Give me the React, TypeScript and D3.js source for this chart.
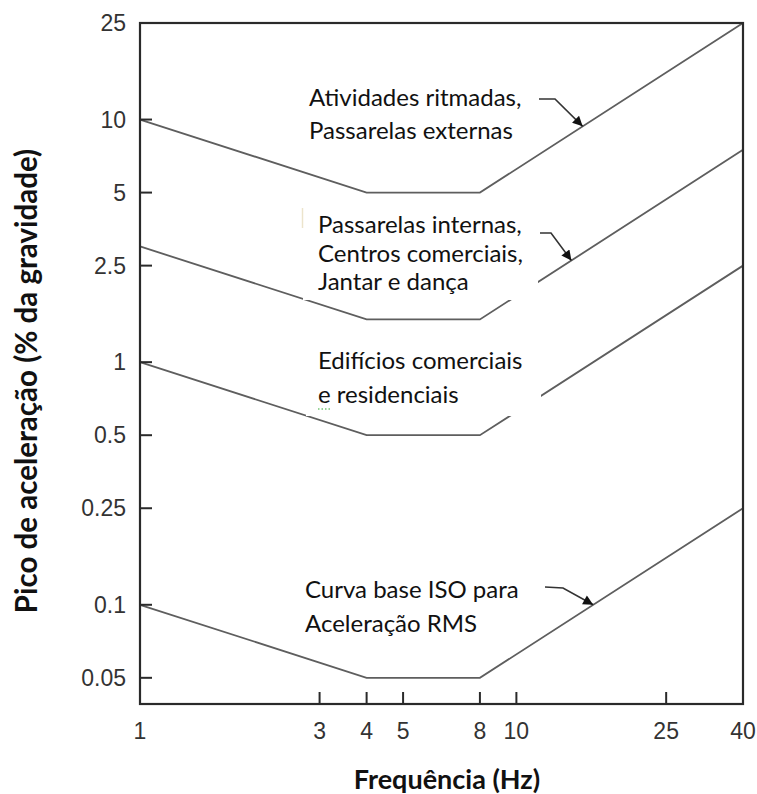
import React from "react";
import * as d3 from "d3";

// frequency (Hz) where the limit curves change slope
const cornerFreqs = [1, 4, 8, 40];
// peak acceleration limits (% g) at each corner frequency
const ritmadas = [10, 5, 5, 25];
const passarelasInternas = [3, 1.5, 1.5, 7.5];
const edificios = [1, 0.5, 0.5, 2.5];
const isoBase = [0.1, 0.05, 0.05, 0.25];

const freqTicks = [1, 3, 4, 5, 8, 10, 25, 40];
const accelTicks = [0.05, 0.1, 0.25, 0.5, 1, 2.5, 5, 10, 25];

const curves = [ritmadas, passarelasInternas, edificios, isoBase];

const W = 757;
const H = 794;
const left = 140;
const right = 743;
const top = 23;
const bottom = 704;

const x = d3.scaleLog().domain([1, 40]).range([left, right]);
const y = d3.scaleLog().domain([0.039, 25]).range([bottom, top]);

const line = d3
  .line<[number, number]>()
  .x((d) => x(d[0]))
  .y((d) => y(d[1]));

// value of a curve at frequency f (piecewise linear in log-log)
const valueAt = (vals: number[], f: number) => {
  for (let i = 0; i < cornerFreqs.length - 1; i++) {
    const f0 = cornerFreqs[i];
    const f1 = cornerFreqs[i + 1];
    if (f >= f0 && f <= f1) {
      const t = Math.log(f / f0) / Math.log(f1 / f0);
      return Math.exp(Math.log(vals[i]) + t * Math.log(vals[i + 1] / vals[i]));
    }
  }
  return vals[vals.length - 1];
};

// annotations: text lines, where they sit, and which curve the arrow points at
const notes = [
  {
    lines: ["Atividades ritmadas,", "Passarelas externas"],
    tx: 309,
    ty: [106, 139],
    curve: ritmadas,
    tipF: 15,
    lead: [[539, 99], [555, 99]],
  },
  {
    lines: ["Passarelas internas,", "Centros comerciais,", "Jantar e dança"],
    tx: 318,
    ty: [233, 262, 290],
    curve: passarelasInternas,
    tipF: 14,
    lead: [[540, 233], [551, 233]],
    mask: [303, 200, 235, 100],
  },
  {
    lines: ["Edifícios comerciais", "e residenciais"],
    tx: 318,
    ty: [369, 403],
    curve: edificios,
    mask: [306, 340, 235, 76],
  },
  {
    lines: ["Curva base ISO para", "Aceleração RMS"],
    tx: 305,
    ty: [598, 632],
    curve: isoBase,
    tipF: 16,
    lead: [[545, 587], [563, 588]],
  },
];

const textFont = "Lato, 'Open Sans', sans-serif";
const tickFont = "'Liberation Sans', Arial, sans-serif";

export default function App() {
  return (
    <svg
      width={W}
      height={H}
      style={{ position: "absolute", left: 0, top: 0, background: "#fff" }}
    >
      <defs>
        <marker
          id="arrow"
          viewBox="0 0 10 10"
          refX="10"
          refY="5"
          markerWidth="15"
          markerHeight="10"
          markerUnits="userSpaceOnUse"
          orient="auto"
        >
          <path d="M0,0 L10,5 L0,10 z" fill="#111" />
        </marker>
      </defs>
      <rect width={W} height={H} fill="#fff" />

      {/* limit curves */}
      {curves.map((vals, i) => (
        <path
          key={i}
          d={line(cornerFreqs.map((f, j) => [f, vals[j]] as [number, number])) || ""}
          fill="none"
          stroke="#5e5e5e"
          strokeWidth={1.8}
        />
      ))}

      {/* white text boxes hiding parts of the curves */}
      {notes.map((n, i) =>
        n.mask ? (
          <rect
            key={"m" + i}
            x={n.mask[0]}
            y={n.mask[1]}
            width={n.mask[2]}
            height={n.mask[3]}
            fill="#fff"
          />
        ) : null
      )}
      <line x1={302.5} x2={302.5} y1={208} y2={228} stroke="#ece4cc" strokeWidth={1.5} />

      {/* frame */}
      <rect
        x={left}
        y={top}
        width={right - left}
        height={bottom - top}
        fill="none"
        stroke="#2a2a2a"
        strokeWidth={2.2}
      />

      {/* y ticks */}
      {accelTicks.map((v) => (
        <g key={"y" + v}>
          <line x1={left} x2={left + 12} y1={y(v)} y2={y(v)} stroke="#2a2a2a" strokeWidth={2} />
          <text
            x={126}
            y={y(v)}
            textAnchor="end"
            dominantBaseline="central"
            fontFamily={tickFont}
            fontSize={23}
            fill="#333"
          >
            {v}
          </text>
        </g>
      ))}

      {/* x ticks */}
      {freqTicks.map((f) => (
        <g key={"x" + f}>
          <line x1={x(f)} x2={x(f)} y1={bottom} y2={bottom - 12} stroke="#2a2a2a" strokeWidth={2} />
          <text
            x={x(f)}
            y={739}
            textAnchor="middle"
            fontFamily={tickFont}
            fontSize={23}
            fill="#333"
          >
            {f}
          </text>
        </g>
      ))}

      {/* axis titles */}
      <text
        x={447}
        y={789}
        textAnchor="middle"
        fontFamily={textFont}
        fontWeight="bold"
        fontSize={27}
        fill="#111"
      >
        Frequência (Hz)
      </text>
      <text
        transform="translate(37,381) rotate(-90)"
        textAnchor="middle"
        fontFamily={textFont}
        fontWeight="bold"
        fontSize={29.5}
        fill="#111"
      >
        Pico de aceleração (% da gravidade)
      </text>

      {/* annotations */}
      {notes.map((n, i) => (
        <g key={"n" + i}>
          {n.lines.map((t, j) => (
            <text
              key={j}
              x={n.tx}
              y={n.ty[j]}
              fontFamily={textFont}
              fontSize={24}
              fill="#111"
            >
              {t}
            </text>
          ))}
          {n.lead && n.tipF ? (
            <path
              d={`M${n.lead[0][0]},${n.lead[0][1]} L${n.lead[1][0]},${n.lead[1][1]} L${x(
                n.tipF
              )},${y(valueAt(n.curve, n.tipF))}`}
              fill="none"
              stroke="#333"
              strokeWidth={1.6}
              markerEnd="url(#arrow)"
            />
          ) : null}
        </g>
      ))}
      {/* spell-check squiggle under the lone "e" */}
      <line
        x1={318}
        x2={330}
        y1={409}
        y2={409}
        stroke="#3a3"
        strokeWidth={1.2}
        strokeDasharray="1.5,2"
      />
    </svg>
  );
}
